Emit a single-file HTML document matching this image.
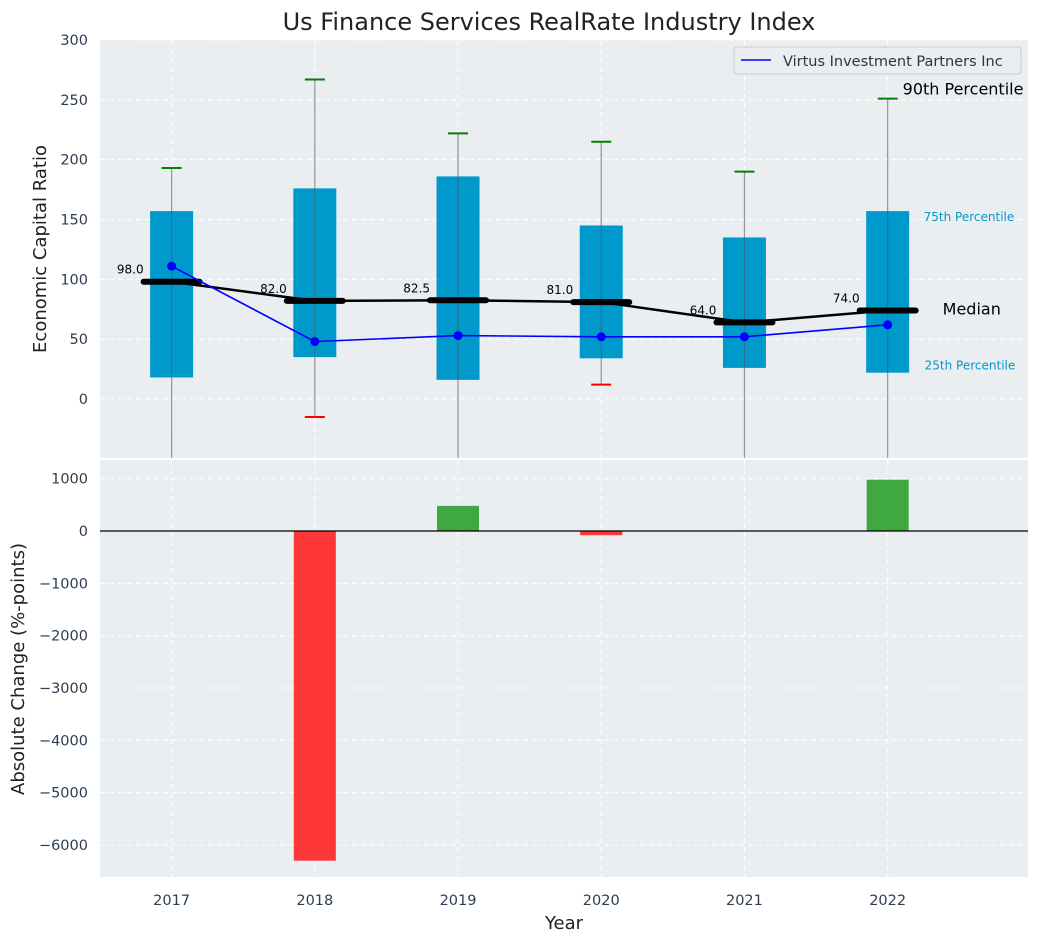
<!DOCTYPE html>
<html><head><meta charset="utf-8"><style>
body{margin:0;background:#fff;font-family:"Liberation Sans","DejaVu Sans",sans-serif}
svg text{font-family:"DejaVu Sans","Liberation Sans",sans-serif}
</style></head><body>
<svg id="c" width="1039" height="942" xmlns="http://www.w3.org/2000/svg"></svg>
<script>
const years=[2017,2018,2019,2020,2021,2022];
const q1=[18,35,16,34,26,22];
const q3=[157,176,186,145,135,157];
const p90=[193,267,222,215,190,251];
const p10=[-80,-15,-80,12,-80,-80];
const medians=[98,82,82.5,81,64,74];
const virtus=[111,48,53,52,52,62];
const changes=[0,-6300,480,-80,0,980];
const topTicks=[0,50,100,150,200,250,300];
const botTicks=[1000,0,-1000,-2000,-3000,-4000,-5000,-6000];

const svg=document.getElementById('c');
const NS='http://www.w3.org/2000/svg';
function mk(t,a,p){const e=document.createElementNS(NS,t);for(const k in a)e.setAttribute(k,a[k]);(p||svg).appendChild(e);return e;}
const L=100,R=1028,T1=40,B1=458,T2=460,B2=877;
const xs=y=>L+(y-2016.5)/(2022.98-2016.5)*(R-L);
const y1=v=>399-v*(399-40)/300;
const y2=v=>531-v*(845-531)/6000;

mk('rect',{x:L,y:T1,width:R-L,height:B1-T1,fill:'#eaeef0'});
mk('rect',{x:L,y:T2,width:R-L,height:B2-T2,fill:'#eaeef0'});
const cp=mk('clipPath',{id:'cp1'});mk('rect',{x:L,y:T1,width:R-L,height:B1-T1},cp);
const g1=mk('g',{'clip-path':'url(#cp1)'});



topTicks.forEach(v=>{mk('line',{x1:L,x2:R,y1:y1(v),y2:y1(v),stroke:'#fff','stroke-dasharray':'5,4','stroke-width':1},g1);
 const t=mk('text',{x:L-12,y:y1(v)+5,'text-anchor':'end','font-size':14.5,fill:'#2d3e50'});t.textContent=v;
 });
botTicks.forEach(v=>{mk('line',{x1:L,x2:R,y1:y2(v),y2:y2(v),stroke:'#fff','stroke-dasharray':'5,4','stroke-width':1});
 const t=mk('text',{x:L-12,y:y2(v)+5,'text-anchor':'end','font-size':14.5,fill:'#2d3e50'});t.textContent=(v<0?'\u2212'+(-v):v);
 });
years.forEach(yr=>{mk('line',{x1:xs(yr),x2:xs(yr),y1:T1,y2:B1,stroke:'#fff','stroke-dasharray':'5,4'},g1);
 mk('line',{x1:xs(yr),x2:xs(yr),y1:T2,y2:B2,stroke:'#fff','stroke-dasharray':'5,4'});
 const t=mk('text',{x:xs(yr),y:905,'text-anchor':'middle','font-size':14.5,fill:'#2d3e50'});t.textContent=yr;
 });

years.forEach((yr,i)=>{const x=xs(yr);
 const b=mk('rect',{x:x-21.5,y:y1(q3[i]),width:43,height:y1(q1[i])-y1(q3[i]),fill:'#0099cc'},g1);
 
 mk('line',{x1:x,x2:x,y1:y1(p90[i]),y2:y1(p10[i]),stroke:'#555','stroke-opacity':0.6,'stroke-width':1.2},g1);
 mk('line',{x1:x-10,x2:x+10,y1:y1(p90[i]),y2:y1(p90[i]),stroke:'green','stroke-width':2},g1);
 mk('line',{x1:x-10,x2:x+10,y1:y1(p10[i]),y2:y1(p10[i]),stroke:p10[i]>=q1[i]?'green':'red','stroke-width':2},g1);
});
mk('polyline',{points:years.map((y,i)=>xs(y)+','+y1(medians[i])).join(' '),fill:'none',stroke:'#000','stroke-width':2.5},g1);
years.forEach((yr,i)=>{const x=xs(yr);
 mk('line',{x1:x-28,x2:x+28,y1:y1(medians[i]),y2:y1(medians[i]),stroke:'#000','stroke-width':6,'stroke-linecap':'round'},g1);
 const t=mk('text',{x:x-28,y:y1(medians[i])-8,'text-anchor':'end','font-size':12,fill:'#000'},g1);t.textContent=medians[i].toFixed(1);
 });
mk('polyline',{points:years.map((y,i)=>xs(y)+','+y1(virtus[i])).join(' '),fill:'none',stroke:'#0000ff','stroke-width':1.6},g1);
years.forEach((yr,i)=>{const c=mk('circle',{cx:xs(yr),cy:y1(virtus[i]),r:4.5,fill:'#0000ff'},g1);});

const li=years.length-1,lx=xs(years[li]);
[[lx+15,y1(p90[li])-4,'90th Percentile',16,'#000'],[lx+36,y1(q3[li])+10,'75th Percentile',12,'#0099cc'],[lx+55,y1(medians[li])+4,'Median',16,'#000'],[lx+37,y1(q1[li])-3,'25th Percentile',12,'#0099cc']].forEach(a=>{
 const t=mk('text',{x:a[0],y:a[1],'font-size':a[3],fill:a[4]});t.textContent=a[2];});

const lg=mk('g',{});
mk('rect',{x:734,y:47,width:287,height:27,rx:3,fill:'#eaeef0',stroke:'#ccc'},lg);
mk('line',{x1:741,x2:771,y1:60,y2:60,stroke:'#0000ff','stroke-width':1.6},lg);
const lt=mk('text',{x:783,y:66,'font-size':14.5,fill:'#333'},lg);lt.textContent='Virtus Investment Partners Inc';

years.forEach((yr,i)=>{const v=changes[i];if(!v)return;const x=xs(yr);
 const r=mk('rect',{x:x-21,y:Math.min(y2(v),y2(0)),width:42,height:Math.abs(y2(v)-y2(0)),fill:v>0?'#2ca02c':'#ff2222','fill-opacity':0.9});
 });
mk('line',{x1:L,x2:R,y1:y2(0),y2:y2(0),stroke:'#000','stroke-width':1.2});

let t=mk('text',{x:549,y:30,'text-anchor':'middle','font-size':24,fill:'#222'});t.textContent='Us Finance Services RealRate Industry Index';
t=mk('text',{x:0,y:0,'text-anchor':'middle','font-size':18,fill:'#222',transform:'translate(46,249) rotate(-90)'});t.textContent='Economic Capital Ratio';
t=mk('text',{x:0,y:0,'text-anchor':'middle','font-size':18,fill:'#222',transform:'translate(24,669) rotate(-90)'});t.textContent='Absolute Change (%-points)';
t=mk('text',{x:564,y:929,'text-anchor':'middle','font-size':18,fill:'#222'});t.textContent='Year';
</script>
</body></html>
